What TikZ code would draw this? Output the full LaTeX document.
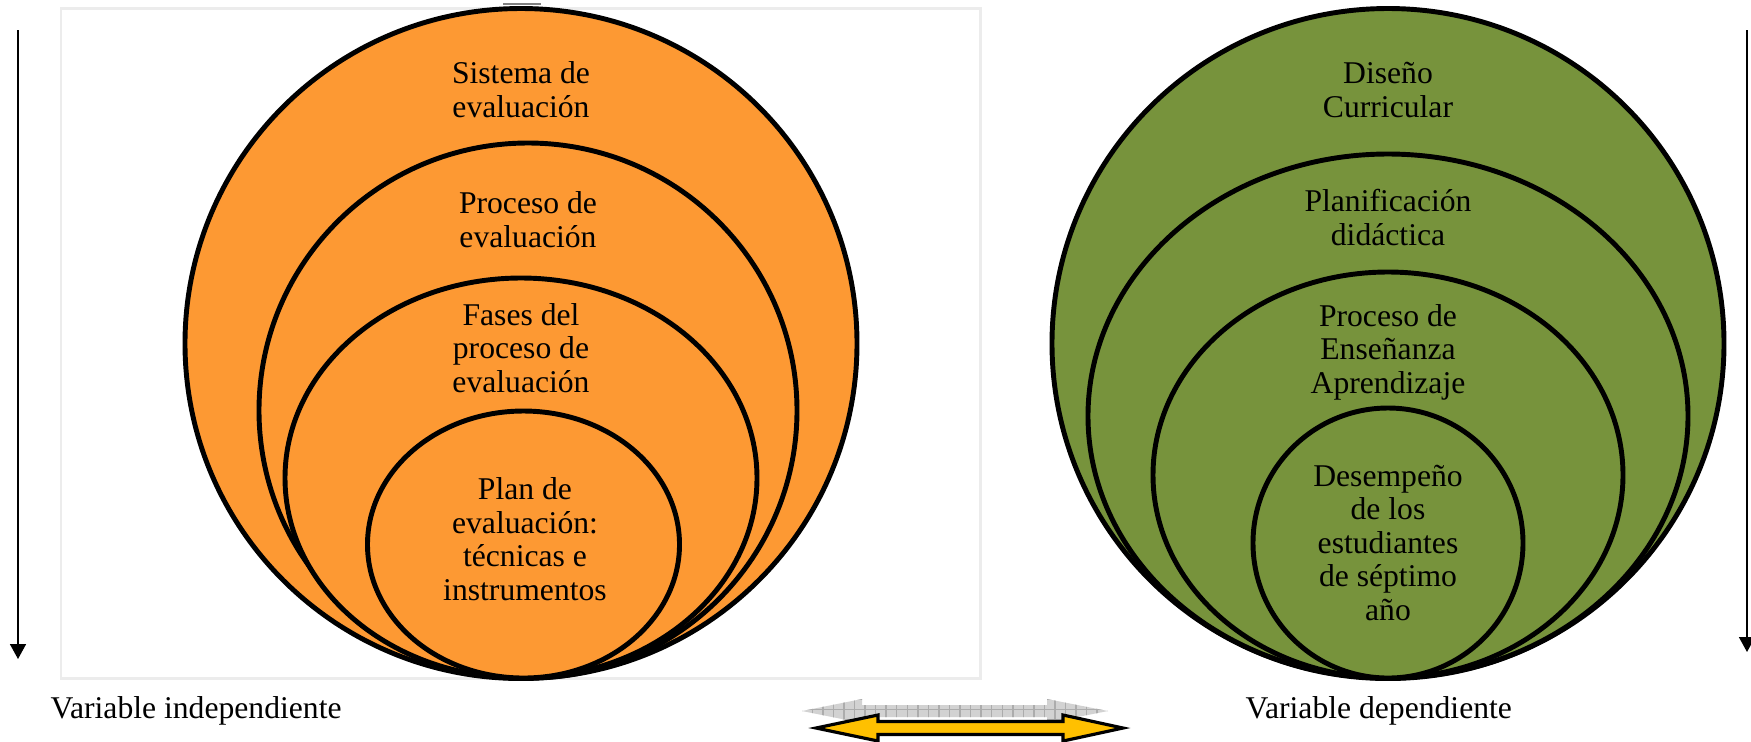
\documentclass[tikz,border=0pt]{standalone}
\usepackage{fontspec}
\setmainfont{Liberation Serif}
\usetikzlibrary{arrows.meta,patterns}
\definecolor{ringorange}{RGB}{253,153,51}
\definecolor{ringgreen}{RGB}{119,147,60}
\definecolor{arrowgold}{RGB}{255,192,0}
\definecolor{boxgray}{RGB}{236,236,236}

\begin{document}
\begin{tikzpicture}[x=0.01cm, y=-0.01cm,
    ring/.style={draw=black, line width=1.4pt},
    lbl/.style={font=\fontsize{9}{9.5}\selectfont, align=center, anchor=base, inner sep=0pt},
    varlbl/.style={font=\fontsize{9}{9.5}\selectfont, anchor=base west, inner sep=0pt},
    downarrow/.style={-{Triangle[width=0.16cm,length=0.15cm]}, line width=0.45pt}]
              \useasboundingbox (0,0) rectangle (1751,741);
              % Frame behind the left circles
              \draw[boxgray, line width=0.85pt] (61,8) rectangle (980,678);
              \draw[gray, line width=0.4pt] (503,4)--(541,4);
              % Independent variable circles
              \filldraw[ring, fill=ringorange] (521,343.5) ellipse [x radius=336, y radius=335];
              \filldraw[ring, fill=ringorange] (528,410.5) ellipse [x radius=269, y radius=267.5];
              \filldraw[ring, fill=ringorange] (521,478) ellipse [x radius=236, y radius=200];
              \filldraw[ring, fill=ringorange] (523.5,544.5) ellipse [x radius=156, y radius=133.5];
              \node[lbl] (sis) at (521,117) {Sistema de\\evaluación};
              \node[lbl] (proc) at (528,247) {Proceso de\\evaluación};
              \node[lbl] (fases) at (521,392) {Fases del\\proceso de\\evaluación};
              \node[lbl] (plan) at (525,600) {Plan de\\evaluación:\\técnicas e\\instrumentos};
              % Dependent variable circles
              \filldraw[ring, fill=ringgreen] (1388,343.5) ellipse [x radius=336, y radius=335];
              \filldraw[ring, fill=ringgreen] (1388,416) ellipse [x radius=300, y radius=262];
              \filldraw[ring, fill=ringgreen] (1388,475) ellipse [x radius=235, y radius=203];
              \filldraw[ring, fill=ringgreen] (1388,543) ellipse [x radius=135, y radius=135];
              \node[lbl] (dis) at (1388,117) {Diseño\\Curricular};
              \node[lbl] (plani) at (1388,245) {Planificación\\didáctica};
              \node[lbl] (pea) at (1388,393) {Proceso de\\Enseñanza\\Aprendizaje};
              \node[lbl] (des) at (1388,620) {Desempeño\\de los\\estudiantes\\de séptimo\\año};
              % Side arrows
              \coordinate (lt) at (18,30);
              \coordinate (lb) at (18,659);
              \coordinate (rt) at (1747,30);
              \coordinate (rb) at (1747,652);
              \draw[downarrow] (lt)--(lb);
              \draw[downarrow] (rt)--(rb);
              % Variable names
              \node[varlbl] (indep) at (50,718) {Variable independiente};
              \node[varlbl] (dep) at (1245,718) {Variable dependiente};
              % Double arrows
              \path[preaction={fill=gray!35}, pattern=grid, pattern color=gray!65]
                (802,711)--(862,699)--(862,705)--(1047,705)--(1047,699)--(1108,711)
                --(1047,723)--(1047,717)--(862,717)--(862,723)--cycle;
              \filldraw[fill=arrowgold, draw=black, line width=0.9pt]
                (816,728)--(878,715)--(878,721.5)--(1063,721.5)--(1063,715)--(1123,728)
                --(1063,741)--(1063,734.5)--(878,734.5)--(878,741)--cycle;
      \end{tikzpicture}
\end{document}
